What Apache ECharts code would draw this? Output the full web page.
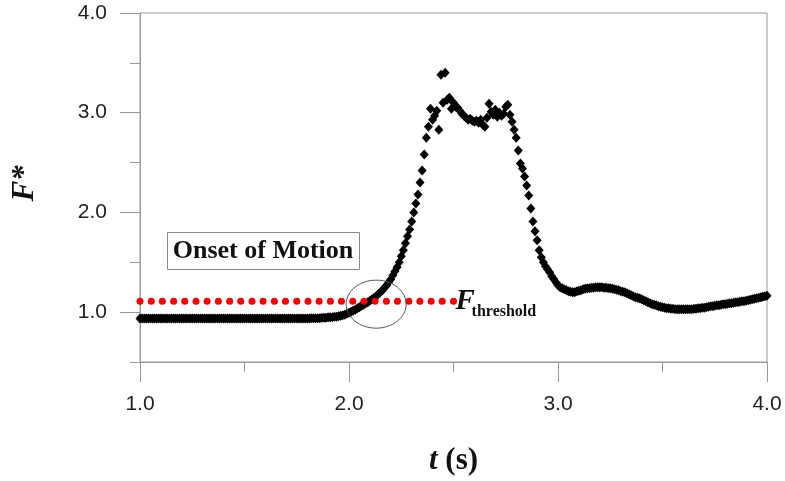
<!DOCTYPE html>
<html>
<head>
<meta charset="utf-8">
<title>F* vs t</title>
<script src="https://cdn.jsdelivr.net/npm/echarts@6/dist/echarts.min.js"></script>
<style>
  html, body { margin: 0; padding: 0; background: #fff; }
  #main { width: 785px; height: 481px; }
</style>
</head>
<body>
<div id="main"></div>
<script>
// sampling of the measured signal: t = 1.00 .. 4.00 s, every 0.01 s
const tStart = 1.0;
const tStep = 0.01;

// F*, one value per sample (rows of 0.1 s)
const forceVals = [
  0.935, 0.935, 0.935, 0.935, 0.935, 0.935, 0.935, 0.935, 0.935, 0.935, // 1.0
  0.935, 0.935, 0.935, 0.935, 0.935, 0.935, 0.935, 0.935, 0.935, 0.935, // 1.1
  0.935, 0.935, 0.935, 0.935, 0.935, 0.935, 0.935, 0.935, 0.935, 0.935, // 1.2
  0.935, 0.935, 0.935, 0.935, 0.935, 0.935, 0.935, 0.935, 0.935, 0.935, // 1.3
  0.935, 0.935, 0.935, 0.935, 0.935, 0.935, 0.935, 0.935, 0.935, 0.935, // 1.4
  0.935, 0.935, 0.935, 0.935, 0.935, 0.935, 0.935, 0.935, 0.935, 0.935, // 1.5
  0.935, 0.935, 0.935, 0.935, 0.935, 0.935, 0.935, 0.935, 0.935, 0.935, // 1.6
  0.935, 0.935, 0.935, 0.935, 0.935, 0.935, 0.935, 0.935, 0.935, 0.935, // 1.7
  0.935, 0.935, 0.94, 0.94, 0.94, 0.94, 0.94, 0.945, 0.945, 0.945,      // 1.8
  0.95, 0.95, 0.95, 0.955, 0.955, 0.96, 0.965, 0.97, 0.975, 0.985,      // 1.9
  0.995, 1.005, 1.015, 1.025, 1.04, 1.05, 1.065, 1.075, 1.09, 1.10,     // 2.0
  1.115, 1.13, 1.145, 1.16, 1.18, 1.20, 1.22, 1.245, 1.27, 1.30,        // 2.1
  1.33, 1.37, 1.41, 1.45, 1.50, 1.56, 1.62, 1.69, 1.76, 1.83,           // 2.2
  1.91, 2.00, 2.09, 2.18, 2.30, 2.42, 2.58, 2.75, 2.86, 3.04,           // 2.3
  2.93, 2.97, 3.02, 2.83, 3.38, 3.10, 3.40, 3.13, 3.15, 3.04,           // 2.4
  3.10, 3.06, 3.05, 3.02, 2.99, 2.97, 2.95, 2.93, 2.94, 2.92,           // 2.5
  2.91, 2.92, 2.90, 2.93, 2.88, 2.86, 2.95, 3.09, 3.01, 2.98,           // 2.6
  3.03, 2.96, 3.00, 2.97, 2.99, 3.06, 3.08, 2.98, 2.91, 2.83,           // 2.7
  2.75, 2.62, 2.49, 2.44, 2.36, 2.27, 2.17, 2.04, 1.91, 1.81,           // 2.8
  1.72, 1.62, 1.55, 1.50, 1.46, 1.43, 1.40, 1.36, 1.33, 1.30,           // 2.9
  1.27, 1.25, 1.24, 1.23, 1.22, 1.21, 1.205, 1.20, 1.20, 1.21,          // 3.0
  1.215, 1.22, 1.23, 1.235, 1.24, 1.24, 1.245, 1.245, 1.25, 1.25,       // 3.1
  1.25, 1.25, 1.245, 1.245, 1.24, 1.24, 1.235, 1.23, 1.225, 1.22,       // 3.2
  1.21, 1.205, 1.20, 1.19, 1.18, 1.17, 1.16, 1.15, 1.145, 1.14,         // 3.3
  1.13, 1.12, 1.11, 1.10, 1.09, 1.08, 1.075, 1.07, 1.06, 1.055,         // 3.4
  1.05, 1.045, 1.04, 1.04, 1.035, 1.035, 1.03, 1.03, 1.03, 1.03,        // 3.5
  1.03, 1.03, 1.03, 1.03, 1.03, 1.035, 1.035, 1.04, 1.04, 1.045,        // 3.6
  1.045, 1.05, 1.055, 1.06, 1.06, 1.065, 1.07, 1.07, 1.075, 1.08,       // 3.7
  1.08, 1.085, 1.09, 1.09, 1.095, 1.10, 1.10, 1.105, 1.11, 1.11,        // 3.8
  1.115, 1.12, 1.125, 1.13, 1.135, 1.14, 1.145, 1.15, 1.155, 1.16,      // 3.9
  1.165                                                                  // 4.0
];

// red dotted threshold line
const thresholdValue = 1.11;
const thresholdT = [
  1.000, 1.054, 1.107, 1.161, 1.214, 1.268, 1.321, 1.375, 1.429, 1.482,
  1.536, 1.589, 1.643, 1.696, 1.750, 1.804, 1.857, 1.911, 1.964, 2.018,
  2.071, 2.125, 2.179, 2.232, 2.286, 2.339, 2.393, 2.446, 2.500
];

const xTicks = [1, 2, 3, 4];
const yTicks = [1, 2, 3, 4];

const sansFont = "Liberation Sans, Arial, sans-serif";
const serifFont = "Liberation Serif, Times New Roman, serif";
const axisGray = "#999";

const forceData = forceVals.map((f, i) => [+(tStart + i * tStep).toFixed(2), f]);
const thresholdData = thresholdT.map((t) => [t, thresholdValue]);

const chart = echarts.init(document.getElementById("main"), null, { renderer: "canvas" });

const option = {
  animation: false,
  backgroundColor: "#fff",
  grid: [
    // main plot area (0.5 .. 4.0), framed box
    {
      left: 140, right: 18, top: 13, bottom: 119,
      show: true, borderColor: axisGray, borderWidth: 1,
      containLabel: false, outerBoundsMode: "none"
    },
    // same scale, 1.0 .. 4.0, only used for the long labelled y ticks
    {
      left: 140, right: 18, top: 13, bottom: 169,
      containLabel: false, outerBoundsMode: "none"
    }
  ],
  xAxis: [
    {
      type: "value",
      gridIndex: 0,
      min: xTicks[0],
      max: xTicks[xTicks.length - 1],
      interval: 1,
      axisLine: { show: true, onZero: false, lineStyle: { color: axisGray, width: 1 } },
      axisTick: { show: true, length: 20, lineStyle: { color: axisGray } },
      minorTick: { show: true, splitNumber: 2, length: 10, lineStyle: { color: axisGray } },
      splitLine: { show: false },
      axisLabel: {
        margin: 32,
        fontFamily: sansFont,
        fontSize: 21,
        color: "#222",
        formatter: (v) => v.toFixed(1)
      },
      name: "{i|t}{b| (s)}",
      nameLocation: "middle",
      nameGap: 83,
      nameTextStyle: {
        rich: {
          i: { fontFamily: serifFont, fontStyle: "italic", fontWeight: "bold", fontSize: 31, color: "#111" },
          b: { fontFamily: serifFont, fontWeight: "bold", fontSize: 31, color: "#111" }
        }
      }
    },
    { type: "value", gridIndex: 1, min: 1, max: 4, show: false }
  ],
  yAxis: [
    {
      type: "value",
      gridIndex: 0,
      min: 0.5,
      max: 4,
      interval: 0.5,
      axisLine: { show: true, onZero: false, lineStyle: { color: axisGray, width: 1 } },
      axisTick: { show: true, length: 10, lineStyle: { color: axisGray } },
      axisLabel: { show: false },
      splitLine: { show: false },
      name: "F*",
      nameLocation: "middle",
      nameRotate: 90,
      nameGap: 100,
      nameTextStyle: {
        fontFamily: serifFont,
        fontStyle: "italic",
        fontWeight: "bold",
        fontSize: 31,
        color: "#111",
        padding: [0, 0, 0, 8]
      }
    },
    {
      type: "value",
      gridIndex: 1,
      min: yTicks[0],
      max: yTicks[yTicks.length - 1],
      interval: 1,
      axisLine: { show: true, onZero: false, lineStyle: { color: axisGray, width: 1 } },
      axisTick: { show: true, length: 20, lineStyle: { color: axisGray } },
      splitLine: { show: false },
      axisLabel: {
        margin: 33,
        fontFamily: sansFont,
        fontSize: 21,
        color: "#222",
        formatter: (v) => v.toFixed(1)
      }
    }
  ],
  series: [
    {
      name: "F*",
      type: "scatter",
      xAxisIndex: 0,
      yAxisIndex: 0,
      symbol: "diamond",
      symbolSize: [9, 10],
      itemStyle: { color: "#000", opacity: 1 },
      data: forceData,
      z: 3
    },
    {
      name: "threshold",
      type: "scatter",
      xAxisIndex: 0,
      yAxisIndex: 0,
      symbol: "circle",
      symbolSize: 7,
      itemStyle: { color: "#f00000", opacity: 1 },
      data: thresholdData,
      z: 4
    }
  ]
};

chart.setOption(option);

// annotations: text box, ellipse round the crossing, F_threshold label
const crossPx = chart.convertToPixel({ xAxisIndex: 0, yAxisIndex: 0 }, [2.13, 1.08]);
const labelPx = chart.convertToPixel({ xAxisIndex: 0, yAxisIndex: 0 }, [2.51, thresholdValue]);

chart.setOption({
  graphic: [
    {
      type: "rect",
      left: 167,
      top: 232,
      shape: { width: 192, height: 37 },
      style: { fill: "#fff", stroke: "#888", lineWidth: 1 },
      z: 10
    },
    {
      type: "text",
      x: 263,
      y: 251,
      style: {
        text: "Onset of Motion",
        fontFamily: serifFont,
        fontWeight: "bold",
        fontSize: 26,
        fill: "#111",
        align: "center",
        verticalAlign: "middle"
      },
      z: 11
    },
    {
      type: "ellipse",
      shape: { cx: crossPx[0], cy: crossPx[1], rx: 30, ry: 24 },
      style: { fill: null, stroke: "#555", lineWidth: 1 },
      z: 10
    },
    {
      type: "text",
      x: labelPx[0],
      y: labelPx[1],
      style: {
        text: "F",
        fontFamily: serifFont,
        fontStyle: "italic",
        fontWeight: "bold",
        fontSize: 29,
        fill: "#111",
        align: "left",
        verticalAlign: "middle"
      },
      z: 11
    },
    {
      type: "text",
      x: labelPx[0] + 16,
      y: labelPx[1] + 11,
      style: {
        text: "threshold",
        fontFamily: serifFont,
        fontWeight: "bold",
        fontSize: 16,
        fill: "#111",
        align: "left",
        verticalAlign: "middle"
      },
      z: 11
    }
  ]
});
</script>
</body>
</html>
